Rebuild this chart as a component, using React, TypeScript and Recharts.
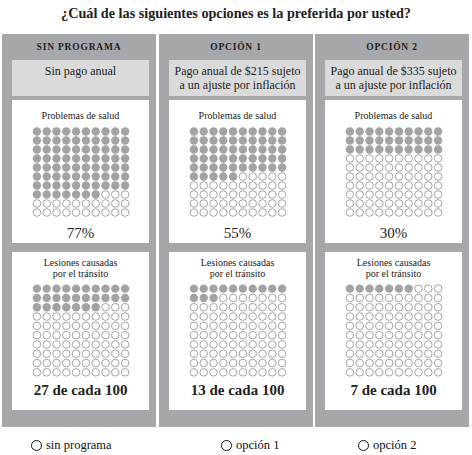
import { ScatterChart, Scatter, XAxis, YAxis } from 'recharts';

const optionTitles = ['SIN PROGRAMA', 'OPCIÓN 1', 'OPCIÓN 2'];
const costLines = [
  ['Sin pago anual'],
  ['Pago anual de $215 sujeto', 'a un ajuste por inflación'],
  ['Pago anual de $335 sujeto', 'a un ajuste por inflación'],
];
const healthPct = [77, 55, 30];
const trafficPer100 = [27, 13, 7];
const choiceLabels = ['sin programa', 'opción 1', 'opción 2'];
const gridIndex = [0, 1, 2, 3, 4, 5, 6, 7, 8, 9];

const SERIF = '"Liberation Serif", "DejaVu Serif", serif';
const PANEL_GRAY = '#a6a7aa';
const BOX_GRAY = '#dadada';
const DOT_GRAY = '#a3a3a6';

const panelLeft = [2, 159, 315];
const radioLeft = [31, 221, 358];

// 10x10 grid, filled row by row from the top-left
const toGrid = (count: number) => {
  const filled: { col: number; row: number }[] = [];
  const empty: { col: number; row: number }[] = [];
  gridIndex.forEach((row) =>
    gridIndex.forEach((col) => {
      const cell = { col, row };
      if (row * 10 + col < count) filled.push(cell);
      else empty.push(cell);
    })
  );
  return { filled, empty };
};

const FilledDot = (props: any) => (
  <circle cx={props.cx} cy={props.cy} r={4.2} fill={DOT_GRAY} />
);
const EmptyDot = (props: any) => (
  <circle cx={props.cx} cy={props.cy} r={3.8} fill="#fff" stroke={DOT_GRAY} strokeWidth={1} />
);

const DotGrid = ({ count, height }: { count: number; height: number }) => {
  const { filled, empty } = toGrid(count);
  return (
    <ScatterChart width={98} height={height} margin={{ top: 0, right: 0, bottom: 0, left: 0 }}>
      <XAxis type="number" dataKey="col" domain={[-0.5, 9.5]} hide />
      <YAxis type="number" dataKey="row" domain={[-0.5, 9.5]} reversed hide />
      <Scatter data={filled} shape={FilledDot} isAnimationActive={false} />
      <Scatter data={empty} shape={EmptyDot} isAnimationActive={false} />
    </ScatterChart>
  );
};

const abs = (left: number, top: number, width: number, height: number) => ({
  position: 'absolute' as const,
  left,
  top,
  width,
  height,
});

const Panel = ({ i }: { i: number }) => (
  <div style={{ ...abs(panelLeft[i], 34, 154, 393), background: PANEL_GRAY }}>
    <div
      style={{
        ...abs(0, 6, 154, 14),
        textAlign: 'center',
        fontSize: 9.5,
        fontWeight: 'bold',
        letterSpacing: 0.8,
        color: '#222',
        lineHeight: '14px',
      }}
    >
      {optionTitles[i]}
    </div>
    <div
      style={{
        ...abs(10, 26, 137, 36),
        background: BOX_GRAY,
        textAlign: 'center',
        fontSize: 12,
        lineHeight: '14px',
        color: '#222',
        paddingTop: 4,
        boxSizing: 'border-box',
      }}
    >
      {costLines[i].map((l) => (
        <div key={l}>{l}</div>
      ))}
    </div>
    <div style={{ ...abs(10, 66, 137, 143), background: '#fff' }}>
      <div style={{ ...abs(0, 9, 137, 14), textAlign: 'center', fontSize: 10, lineHeight: '14px', color: '#222' }}>
        Problemas de salud
      </div>
      <div style={{ ...abs(20, 26.5, 98, 90) }}>
        <DotGrid count={healthPct[i]} height={90} />
      </div>
      <div style={{ ...abs(0, 124, 137, 18), textAlign: 'center', fontSize: 15, lineHeight: '18px', color: '#222' }}>
        {healthPct[i]}%
      </div>
    </div>
    <div style={{ ...abs(10, 218, 137, 158), background: '#fff' }}>
      <div style={{ ...abs(0, 6, 137, 24), textAlign: 'center', fontSize: 10, lineHeight: '10.5px', color: '#222' }}>
        <div>Lesiones causadas</div>
        <div>por el tránsito</div>
      </div>
      <div style={{ ...abs(20, 31.5, 98, 93) }}>
        <DotGrid count={trafficPer100[i]} height={93} />
      </div>
      <div
        style={{
          ...abs(0, 129, 137, 18),
          textAlign: 'center',
          fontSize: 15,
          fontWeight: 'bold',
          lineHeight: '18px',
          color: '#222',
        }}
      >
        {trafficPer100[i]} de cada 100
      </div>
    </div>
  </div>
);

export default function App() {
  return (
    <div style={{ ...abs(0, 0, 472, 455), background: '#fff', fontFamily: SERIF, overflow: 'hidden' }}>
      <div
        style={{
          ...abs(0, 3, 472, 20),
          textAlign: 'center',
          fontSize: 14.2,
          fontWeight: 'bold',
          lineHeight: '20px',
          color: '#222',
        }}
      >
        ¿Cuál de las siguientes opciones es la preferida por usted?
      </div>
      {[0, 1, 2].map((i) => (
        <Panel key={i} i={i} />
      ))}
      {choiceLabels.map((label, i) => (
        <div
          key={label}
          style={{
            ...abs(radioLeft[i], 436, 100, 18),
            display: 'flex',
            alignItems: 'center',
            fontSize: 12.5,
            color: '#111',
          }}
        >
          <span
            style={{
              display: 'inline-block',
              width: 9,
              height: 9,
              borderRadius: '50%',
              border: '1.5px solid #111',
              marginRight: 4,
            }}
          />
          {label}
        </div>
      ))}
    </div>
  );
}
